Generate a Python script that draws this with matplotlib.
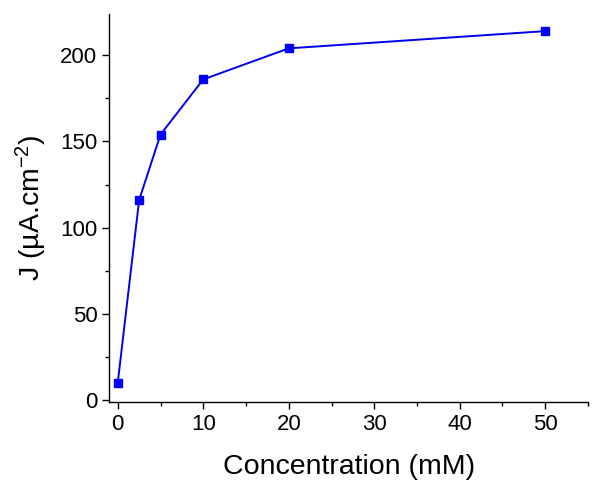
import matplotlib
matplotlib.use('Agg')
from matplotlib import pyplot as plt
from matplotlib.ticker import MultipleLocator

# data
concentration = [0, 2.5, 5, 10, 20, 50]
current_density = [10, 116, 154, 186, 204, 214]

plt.rcParams['font.family'] = ['Liberation Sans', 'DejaVu Sans']
plt.rcParams['mathtext.default'] = 'regular'

fig = plt.figure(figsize=(6, 4.96), dpi=100)
ax = fig.add_axes([0.182, 0.19, 0.798, 0.782])

ax.plot(concentration, current_density, color='#0000ee', lw=1.4,
        marker='s', markersize=6, markerfacecolor='#0000ff', markeredgecolor='#0000ff')

ax.set_xlim(-1, 55)
ax.set_ylim(-1, 224)

ax.xaxis.set_major_locator(MultipleLocator(10))
ax.xaxis.set_minor_locator(MultipleLocator(5))
ax.yaxis.set_major_locator(MultipleLocator(50))
ax.yaxis.set_minor_locator(MultipleLocator(25))

ax.spines['top'].set_visible(False)
ax.spines['right'].set_visible(False)
for s in ('left', 'bottom'):
    ax.spines[s].set_linewidth(1.0)

ax.tick_params(which='major', direction='out', length=5, width=1, labelsize=16)
ax.tick_params(which='minor', direction='out', length=3, width=1)

ax.set_xlabel('Concentration (mM)', fontsize=20.5, labelpad=14)
ax.set_ylabel('J (µA.cm$^{-2}$)', fontsize=20.5, labelpad=8)

fig.savefig('out.png', dpi=100)
